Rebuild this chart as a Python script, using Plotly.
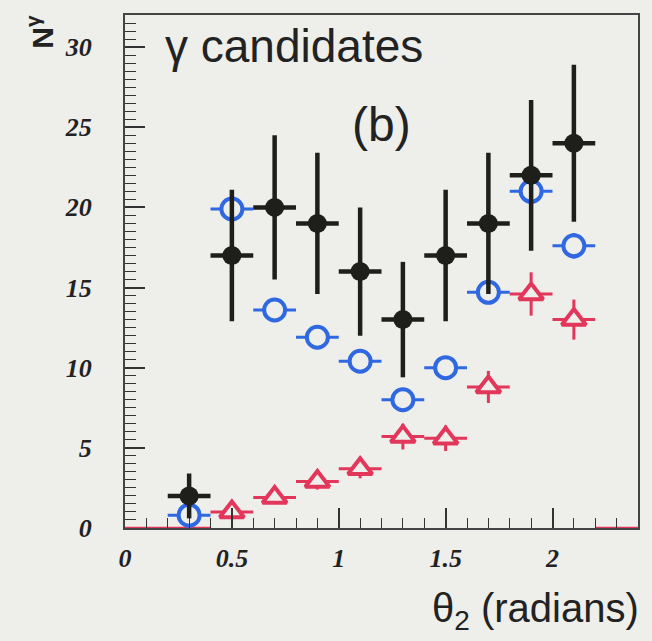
import plotly.graph_objects as go

x_bins = [0.3, 0.5, 0.7, 0.9, 1.1, 1.3, 1.5, 1.7, 1.9, 2.1]
black_y = [2, 17, 20, 19, 16, 13, 17, 19, 22, 24]
black_err = [1.4, 4.1, 4.5, 4.4, 4.0, 3.6, 4.1, 4.4, 4.7, 4.9]

blue_y = [0.8, 19.9, 13.6, 11.9, 10.4, 8.0, 10.0, 14.7, 21.0, 17.6]
blue_err = [0.5, 0.95, 0.7, 0.6, 0.6, 0.5, 0.6, 0.7, 0.9, 0.8]

red_x = [0.5, 0.7, 0.9, 1.1, 1.3, 1.5, 1.7, 1.9, 2.1]
red_y = [1.0, 1.9, 2.9, 3.7, 5.7, 5.6, 8.8, 14.6, 13.0]
red_err = [0.3, 0.4, 0.5, 0.6, 0.8, 0.8, 1.0, 1.35, 1.25]

red_zero_x = [0.0, 0.4, None, 2.2, 2.4]
red_zero_y = [0, 0, None, 0, 0]

BLACK = "#1e1e1a"
BLUE = "#2f68e0"
RED = "#e2375a"
BG = "#eeeeea"

fig = go.Figure()

fig.add_trace(go.Scatter(x=red_zero_x, y=red_zero_y, mode="lines",
                         line=dict(color=RED, width=2.5), showlegend=False))

fig.add_trace(go.Scatter(
    x=red_x, y=red_y, mode="markers",
    marker=dict(symbol="triangle-up", size=21, color=BG, line=dict(width=4, color=RED)),
    error_x=dict(type="constant", value=0.1, color=RED, thickness=3, width=0),
    error_y=dict(type="data", array=red_err, color=RED, thickness=3, width=0),
    showlegend=False))

fig.add_trace(go.Scatter(
    x=x_bins, y=blue_y, mode="markers",
    marker=dict(symbol="circle", size=21, color=BG, line=dict(width=4, color=BLUE)),
    error_x=dict(type="constant", value=0.1, color=BLUE, thickness=3, width=0),
    error_y=dict(type="data", array=blue_err, color=BLUE, thickness=3, width=0),
    showlegend=False))

fig.add_trace(go.Scatter(
    x=x_bins, y=black_y, mode="markers",
    marker=dict(symbol="circle", size=19, color=BLACK),
    error_x=dict(type="constant", value=0.1, color=BLACK, thickness=4.5, width=0),
    error_y=dict(type="data", array=black_err, color=BLACK, thickness=4.5, width=0),
    showlegend=False))

tickfont = dict(family="Liberation Serif", size=26, color="#222222",
                weight="bold", style="italic")

fig.update_layout(
    width=652, height=641,
    margin=dict(l=125, r=12, t=15, b=113),
    paper_bgcolor=BG,
    plot_bgcolor=BG,
    hovermode=False,
    xaxis=dict(range=[0, 2.4], tickmode="linear", tick0=0, dtick=0.5,
               ticks="inside", ticklen=20, tickwidth=1.5, tickcolor="#333",
               minor=dict(dtick=0.1, ticks="inside", ticklen=10, tickcolor="#333", tickwidth=1.3),
               showgrid=False, zeroline=False, showline=True, linecolor="#444",
               linewidth=2, mirror=True, tickfont=tickfont, ticklabelstandoff=6),
    yaxis=dict(range=[0, 32], tickmode="linear", tick0=0, dtick=5,
               ticks="inside", ticklen=20, tickwidth=1.5, tickcolor="#333",
               minor=dict(dtick=0.5, ticks="inside", ticklen=11, tickcolor="#333", tickwidth=1.3),
               showgrid=False, zeroline=False, showline=True, linecolor="#444",
               linewidth=2, mirror=True, tickfont=tickfont, ticklabelstandoff=26),
    annotations=[
        dict(text="γ candidates", x=0.075, y=0.995, xref="paper", yref="paper",
             xanchor="left", yanchor="top",
             showarrow=False, font=dict(family="Liberation Sans", size=46, color="#222")),
        dict(text="(b)", x=1.2, y=25.2, xref="x", yref="y",
             showarrow=False, font=dict(family="Liberation Sans", size=48, color="#222")),
        dict(text="θ<sub>2</sub> (radians)", x=1.005, y=-0.11, xref="paper", yref="paper",
             xanchor="right", yanchor="top", showarrow=False,
             font=dict(family="Liberation Sans", size=40, color="#222")),
        dict(text="<b>N<sup>γ</sup></b>", x=-0.165, y=1.005, xref="paper", yref="paper",
             xanchor="center", yanchor="top", showarrow=False, textangle=-90,
             font=dict(family="Liberation Sans", size=30, color="#222")),
    ],
)

fig.write_html("out.html", config={"displayModeBar": False},
               post_script="document.body.style.margin='0';document.body.style.background='#eeeeea';")
